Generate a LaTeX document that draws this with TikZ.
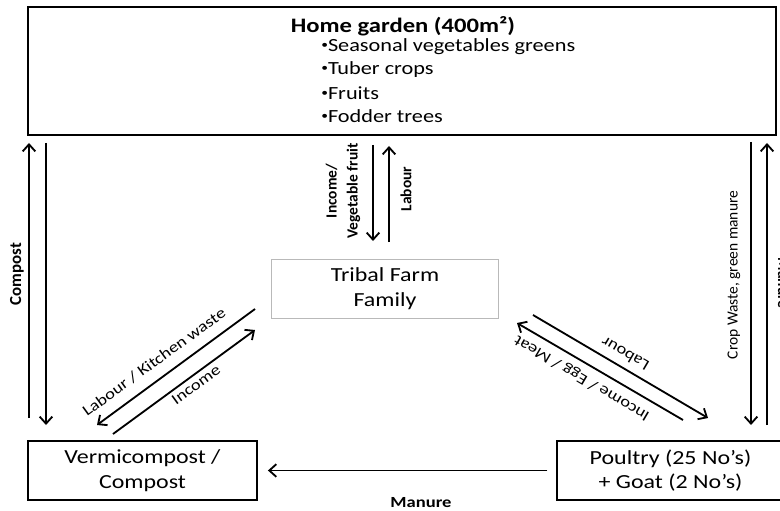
\documentclass[tikz,border=0pt]{standalone}
\usepackage{fontspec}
\setmainfont{Carlito}[FakeStretch = 1.2]
\newfontfamily\uprightlabel{Carlito}
\usetikzlibrary{arrows.meta}

\newcommand\dotmark{\raisebox{0.35ex}{\fontsize{8}{8}\selectfont •}}

\tikzset{
	box/.style = {draw, line width = 1.5pt, align = center, font = \fontsize{14.2}{17.5}\selectfont},
	familybox/.style = {draw = gray!55, line width = 0.7pt, align = center, font = \fontsize{14.2}{17.5}\selectfont},
	item/.style = {anchor = west, inner sep = 0pt, font = \fontsize{13.2}{16}\selectfont},
	flow/.style = {line width = 1.3pt, -{Straight Barb[length = 5pt, width = 9pt, line width = 1.3pt]}},
	vlabel/.style = {inner sep = 0pt, align = center, font = \uprightlabel\bfseries\fontsize{11}{15}\selectfont},
	vthin/.style = {inner sep = 0pt, font = \uprightlabel\fontsize{11}{15}\selectfont},
	dlabel/.style = {inner sep = 0pt, font = \fontsize{11}{13}\selectfont},
}

\begin{document}
\begin{tikzpicture}[x = 0.025cm, y = -0.025cm]
		\useasboundingbox (0,0) rectangle (780,511);
		\node [box, minimum width = 18.7cm, minimum height = 3.2cm] (garden) at (402,71) {};
		\node [font = \bfseries\fontsize{14.6}{17}\selectfont] (title) at (403,26) {Home garden (400m²)};
		\node [item] (veg) at (321,47) {\dotmark Seasonal vegetables greens};
		\node [item] (tuber) at (321,70) {\dotmark Tuber crops};
		\node [item] (fruit) at (321,93) {\dotmark Fruits};
		\node [item] (fodder) at (321,116) {\dotmark Fodder trees};
		\node [familybox, minimum width = 5.65cm, minimum height = 1.475cm] (family) at (385,288.5) {Tribal Farm\\Family};
		\node [box, minimum width = 5.725cm, minimum height = 1.475cm] (compost) at (142.5,470.5) {Vermicompost /\\Compost};
		\node [box, minimum width = 5.675cm, minimum height = 1.475cm] (livestock) at (670.5,470.5) {Poultry (25 No’s)\\+ Goat (2 No’s)};

		\coordinate (compostUpA) at (29,418);
		\coordinate (compostUpB) at (29,143);
		\coordinate (compostDownA) at (46,143);
		\coordinate (compostDownB) at (46,425);
		\coordinate (incomeDownA) at (373,145);
		\coordinate (incomeDownB) at (373,241);
		\coordinate (labourUpA) at (389,242);
		\coordinate (labourUpB) at (389,146);
		\coordinate (cropDownA) at (751,142);
		\coordinate (cropDownB) at (751,425);
		\coordinate (manureUpA) at (767,425);
		\coordinate (manureUpB) at (767,143);
		\coordinate (kitchenA) at (255,309);
		\coordinate (kitchenB) at (97,425);
		\coordinate (incomeLeftA) at (113,434);
		\coordinate (incomeLeftB) at (255,330);
		\coordinate (labourRightA) at (533,315);
		\coordinate (labourRightB) at (708,418);
		\coordinate (meatA) at (683,420);
		\coordinate (meatB) at (517,323);

		\draw [flow] (compostUpA) -- (compostUpB);
		\draw [flow] (compostDownA) -- (compostDownB);
		\draw [flow] (incomeDownA) -- (incomeDownB);
		\draw [flow] (labourUpA) -- (labourUpB);
		\draw [flow] (cropDownA) -- (cropDownB);
		\draw [flow] (manureUpA) -- (manureUpB);
		\draw [flow] (kitchenA) -- (kitchenB);
		\draw [flow] (incomeLeftA) -- (incomeLeftB);
		\draw [flow] (labourRightA) -- (labourRightB);
		\draw [flow] (meatA) -- (meatB);
		\draw [flow, shorten < = 6pt, shorten > = 7pt] (livestock) -- (compost);

		\node [vlabel, rotate = 90, font = \uprightlabel\bfseries\fontsize{12}{15}\selectfont] (compostLbl) at (17,274) {Compost};
		\node [vlabel, rotate = 90] (incomeLbl) at (343,191) {Income/\\Vegetable fruit};
		\node [vlabel, rotate = 90] (labourLbl) at (406,189) {Labour};
		\node [vthin, rotate = 90] (cropLbl) at (734,275) {Crop Waste, green manure};
		\node [vlabel, rotate = -90] (manureSideLbl) at (783,283) {Manure};
		\node [dlabel, rotate = 36] (kitchenLbl) at (154,362) {Labour / Kitchen waste};
		\node [dlabel, rotate = 36] (incomeLeftLbl) at (196,385) {Income};
		\node [dlabel, rotate = 149.5] (labourRightLbl) at (625,354) {Labour};
		\node [dlabel, rotate = 149.5] (meatLbl) at (582,378) {Income / Egg / Meat};
		\node [font = \bfseries\fontsize{11}{13}\selectfont] (manureLbl) at (421,503) {Manure};
	\end{tikzpicture}
\end{document}
